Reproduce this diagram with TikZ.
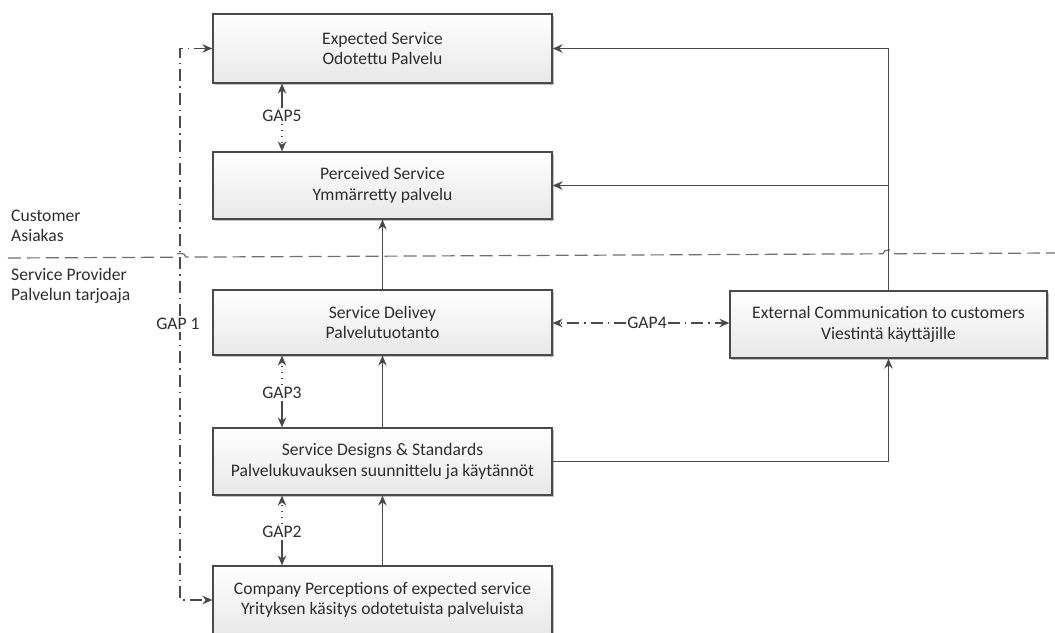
\documentclass[tikz,border=0pt]{standalone}
\usepackage{fontspec}
\setmainfont{Carlito}
\usetikzlibrary{arrows.meta,shadows}
\definecolor{ink}{HTML}{2E2E2E}
\definecolor{edge}{HTML}{4A4A4A}
\begin{document}
\begin{tikzpicture}[x=1pt,y=-1pt,
  txt/.style={text=ink,font=\fontsize{17.6}{20.5}\selectfont,align=center,inner sep=1pt},
  box/.style={txt,draw=edge,line width=1.2pt,top color=white,bottom color=black!9,
    minimum width=339pt,
    drop shadow={shadow xshift=1.5pt,shadow yshift=-1.5pt,opacity=0.25,fill=black}},
  conn/.style={draw=edge,line width=1.2pt},
  tip/.style={-{Stealth[length=10pt,width=8.5pt]}},
  dashdot/.style={dash pattern=on 12pt off 5pt on 1.5pt off 5pt},
  dotline/.style={dash pattern=on 1.5pt off 4.5pt},
  lbl/.style={txt,fill=white,inner sep=2pt}]
\useasboundingbox (0,0) rectangle (1055,632);

% main column of boxes
\node[box,minimum height=69pt] (exp) at (382.5,48.5) {Expected Service\\Odotettu Palvelu};
\node[box,minimum height=67pt] (per) at (382.5,185.5) {Perceived Service\\Ymmärretty palvelu};
\node[box,minimum height=65pt] (del) at (382.5,322.5) {Service Delivey\\Palvelutuotanto};
\node[box,minimum height=67pt] (des) at (382.5,461.5) {Service Designs \& Standards\\Palvelukuvauksen suunnittelu ja käytännöt};
\node[box,minimum height=68pt] (com) at (382.5,600) {Company Perceptions of expected service\\Yrityksen käsitys odotetuista palveluista};
\node[box,minimum width=317pt,minimum height=67pt] (ext) at (888.5,324.5) {External Communication to customers\\Viestintä käyttäjille};

% customer / provider split
\node[txt,anchor=west,align=left] (cust) at (10,226) {Customer\\Asiakas};
\node[txt,anchor=west,align=left] (prov) at (10,286) {Service Provider\\Palvelun tarjoaja};
\draw[edge!80,line width=1.2pt,dash pattern=on 13pt off 6pt]
  (8,258) -- (174,257.2) .. controls (174,252) and (186,252) .. (186,257.1)
  -- (883,253.8) .. controls (883,248.5) and (895,248.5) .. (895,253.7) -- (1055,253);

% upward flow
\draw[conn,tip] (del.north) -- (per.south);
\draw[conn,tip] (des.north) -- (del.south);
\draw[conn,tip] (com.north) -- (des.south);

% external communication
\coordinate (rtop) at (ext.north |- exp.east);
\coordinate (rmid) at (ext.north |- per.east);
\coordinate (rlow) at (ext.south |- des.east);
\draw[conn,tip] (ext.north) -- (rtop) -- (exp.east);
\draw[conn,tip] (rmid) -- (per.east);
\draw[conn,tip] (des.east) -- (rlow) -- (ext.south);

% gap 5
\node[lbl] (g5) at (282,116) {GAP5};
\draw[conn,tip] (g5.north) -- (g5.north |- exp.south);
\draw[conn,dotline,tip] (g5.south) -- (g5.south |- per.north);
% gap 3
\node[lbl] (g3) at (282,393) {GAP3};
\draw[conn,dotline,tip] (g3.north) -- (g3.north |- del.south);
\draw[conn,tip] (g3.south) -- (g3.south |- des.north);
% gap 2
\node[lbl] (g2) at (282,532) {GAP2};
\draw[conn,dotline,tip] (g2.north) -- (g2.north |- des.south);
\draw[conn,tip] (g2.south) -- (g2.south |- com.north);

% gap 4
\node[lbl,inner sep=1pt] (g4) at (647,323) {GAP4};
\draw[conn,dashdot,tip] (g4.west) -- (g4.west -| del.east);
\draw[conn,dashdot,tip] (g4.east) -- (g4.east -| ext.west);

% gap 1
\coordinate (g1t) at (180,48.5);
\coordinate (g1b) at (180,600);
\draw[conn,dashdot,{Stealth[length=10pt,width=8.5pt]}-{Stealth[length=10pt,width=8.5pt]}]
  (exp.west) -- (g1t) -- (g1b) -- (com.west);
\node[lbl] (g1) at (178,324) {GAP 1};
\end{tikzpicture}
\end{document}
